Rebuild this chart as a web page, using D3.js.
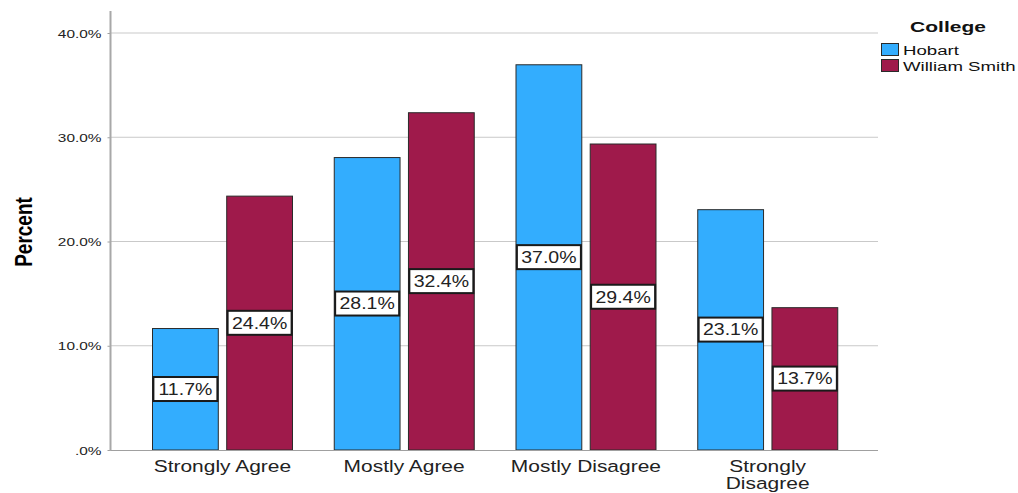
<!DOCTYPE html>
<html>
<head>
<meta charset="utf-8">
<script src="https://cdn.jsdelivr.net/npm/d3@7"></script>
<style>
  html, body { margin: 0; padding: 0; background: #fff; }
  svg { display: block; font-family: "Liberation Sans", Arial, sans-serif; }
</style>
</head>
<body>
<svg id="chart" width="1018" height="493"></svg>
<script>
// Survey responses by college (percent of each college's respondents)
const categories = ["Strongly Agree", "Mostly Agree", "Mostly Disagree", "Strongly Disagree"];
const seriesNames = ["Hobart", "William Smith"];
const hobart = [11.7, 28.1, 37.0, 23.1];
const williamSmith = [24.4, 32.4, 29.4, 13.7];
const tickValues = [0, 10, 20, 30, 40];
const tickLabels = [".0%", "10.0%", "20.0%", "30.0%", "40.0%"];
const colors = ["#33adfe", "#9f1a4b"];

const svg = d3.select("#chart");
const sx = 1.3; // horizontal text stretch

const plot = { left: 111, right: 878, top: 11, bottom: 450 };

const x = d3.scaleBand().domain(categories).range([131, 858]).paddingInner(0).paddingOuter(0);
const xInner = d3.scaleBand().domain(seriesNames).range([21, 162]).paddingInner(0.1);
const y = d3.scaleLinear().domain([0, 40]).range([plot.bottom, 33]);

// gridlines
svg.append("g")
  .selectAll("line")
  .data(tickValues.filter(d => d > 0))
  .join("line")
  .attr("x1", plot.left).attr("x2", plot.right)
  .attr("y1", d => y(d)).attr("y2", d => y(d))
  .attr("stroke", "#c9c9c9").attr("stroke-width", 1);

// y axis
const yAxis = svg.append("g")
  .attr("transform", `translate(${plot.left - 0.5},0)`)
  .call(d3.axisLeft(y).tickValues(tickValues).tickSize(3)
    .tickFormat((d, i) => tickLabels[i]));
yAxis.select(".domain").remove();
yAxis.selectAll(".tick line").attr("stroke", "#a0a0a0");
yAxis.selectAll(".tick text")
  .attr("x", null).attr("dy", "0.38em")
  .attr("transform", `translate(-9,0) scale(${sx + 0.1},1)`)
  .attr("font-size", 11).attr("fill", "#222")
  .attr("font-family", "'Liberation Sans', Arial, sans-serif");
svg.append("line")
  .attr("x1", plot.left - 0.5).attr("x2", plot.left - 0.5)
  .attr("y1", plot.top).attr("y2", plot.bottom + 1)
  .attr("stroke", "#a8a8a8").attr("stroke-width", 2);

// bars
const rows = categories.map((c, i) => ({ cat: c, values: [hobart[i], williamSmith[i]] }));
const groups = svg.append("g").selectAll("g")
  .data(rows).join("g")
  .attr("transform", d => `translate(${x(d.cat)},0)`);

const bars = groups.selectAll("g.bar")
  .data(d => d.values.map((v, j) => ({ name: seriesNames[j], v, j })))
  .join("g").attr("class", "bar");

bars.append("rect")
  .attr("x", d => xInner(d.name) + 0.5)
  .attr("y", d => y(d.v) + 0.5)
  .attr("width", xInner.bandwidth() - 1)
  .attr("height", d => y(0) - y(d.v) - 0.5)
  .attr("fill", d => colors[d.j])
  .attr("stroke", "#2a2a2a").attr("stroke-width", 1);

// value labels
const lab = bars.append("g")
  .attr("transform", d => `translate(${xInner(d.name) + xInner.bandwidth() / 2},${y(d.v / 2)})`);
lab.append("rect")
  .attr("x", -32).attr("y", -12).attr("width", 64).attr("height", 24)
  .attr("fill", "#fff").attr("stroke", "#1a1a1a").attr("stroke-width", 2);
lab.append("text")
  .attr("text-anchor", "middle").attr("dy", "0.36em")
  .attr("transform", `scale(${sx - 0.08},1)`)
  .attr("font-size", 16).attr("fill", "#222")
  .text(d => d.v.toFixed(1) + "%");

// x axis baseline
svg.append("line")
  .attr("x1", plot.left).attr("x2", plot.right)
  .attr("y1", plot.bottom + 0.5).attr("y2", plot.bottom + 0.5)
  .attr("stroke", "#a0a0a0").attr("stroke-width", 1);

// category labels (wrapped where long)
const wrap = { "Strongly Disagree": ["Strongly", "Disagree"] };
const xl = svg.append("g").selectAll("g")
  .data(categories).join("g")
  .attr("transform", d => `translate(${x(d) + x.bandwidth() / 2 + 0.5},472) scale(${sx - 0.03},1)`);
xl.each(function (d) {
  const lines = wrap[d] || [d];
  const t = d3.select(this).append("text")
    .attr("text-anchor", "middle").attr("font-size", 16.5).attr("fill", "#222");
  lines.forEach((ln, i) => t.append("tspan").attr("x", 0).attr("dy", i === 0 ? 0 : 17).text(ln));
});

// y axis title
svg.append("text")
  .attr("transform", `translate(32,232) scale(${sx},1) rotate(-90)`)
  .attr("text-anchor", "middle")
  .attr("font-size", 19).attr("font-weight", "bold").attr("fill", "#000")
  .text("Percent");

// legend
const legend = svg.append("g");
legend.append("text")
  .attr("transform", `translate(948,32) scale(1.4,1)`)
  .attr("text-anchor", "middle").attr("font-size", 15).attr("font-weight", "bold")
  .attr("fill", "#111").text("College");
const items = legend.selectAll("g.item").data(seriesNames).join("g")
  .attr("class", "item")
  .attr("transform", (d, i) => `translate(881,${43 + i * 16})`);
items.append("rect")
  .attr("x", 0.5).attr("y", 0.5).attr("width", 17).attr("height", 12)
  .attr("fill", (d, i) => colors[i]).attr("stroke", "#2a2a2a");
items.append("text")
  .attr("transform", "translate(22,12) scale(1.38,1)")
  .attr("font-size", 13.5).attr("fill", "#111")
  .text(d => d);
</script>
</body>
</html>
